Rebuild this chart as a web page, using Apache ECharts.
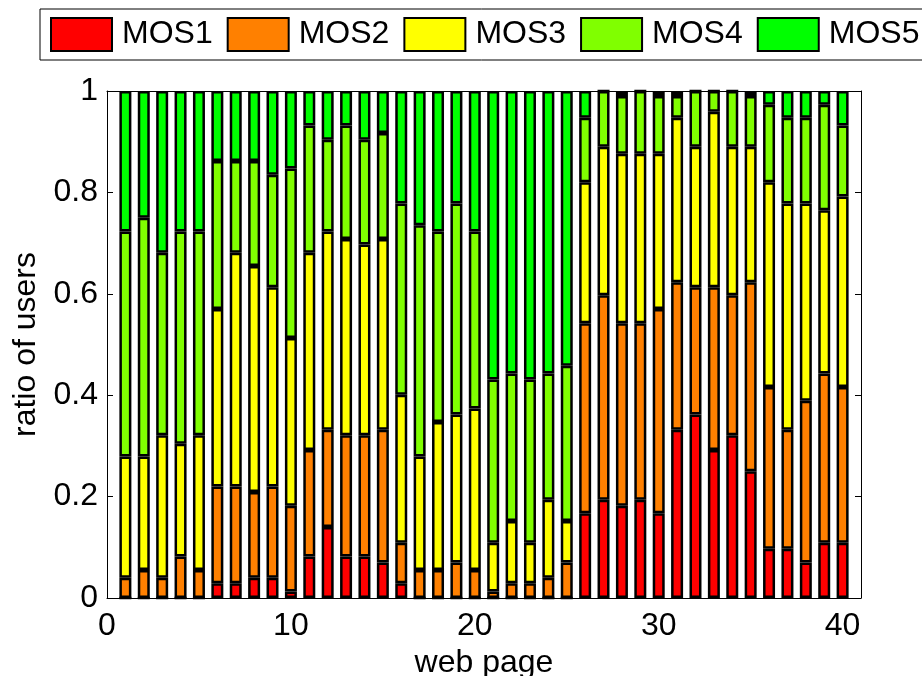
<!DOCTYPE html>
<html>
<head>
<meta charset="utf-8">
<script src="https://cdn.jsdelivr.net/npm/echarts@6/dist/echarts.min.js"></script>
<style>
html,body{margin:0;padding:0;background:#fff;}
#chart{width:922px;height:676px;}
</style>
</head>
<body>
<div id="chart"></div>
<script>
// web page index 1..40
const pages = [1,2,3,4,5,6,7,8,9,10,11,12,13,14,15,16,17,18,19,20,21,22,23,24,25,26,27,28,29,30,31,32,33,34,35,36,37,38,39,40];
const seriesNames = ['MOS1','MOS2','MOS3','MOS4','MOS5'];
const seriesColors = ['#ff0000','#ff8000','#ffff00','#80ff00','#00ff00'];
const mos1 = [0,0,0,0,0,0.029,0.029,0.040,0.040,0.013,0.082,0.140,0.082,0.082,0.070,0.029,0,0,0,0,0,0,0,0,0,0.167,0.194,0.182,0.194,0.167,0.332,0.362,0.292,0.321,0.250,0.097,0.097,0.070,0.109,0.109];
const mos2 = [0.040,0.055,0.040,0.082,0.055,0.191,0.191,0.169,0.180,0.169,0.210,0.192,0.239,0.239,0.262,0.080,0.055,0.055,0.070,0.055,0.013,0.029,0.029,0.040,0.070,0.375,0.403,0.360,0.348,0.403,0.291,0.251,0.321,0.276,0.373,0.319,0.235,0.319,0.334,0.307];
const mos3 = [0.239,0.224,0.281,0.222,0.266,0.350,0.461,0.446,0.393,0.331,0.389,0.391,0.387,0.376,0.376,0.292,0.224,0.292,0.292,0.319,0.096,0.123,0.080,0.154,0.082,0.278,0.293,0.334,0.334,0.306,0.324,0.277,0.346,0.293,0.267,0.404,0.446,0.389,0.322,0.376];
const mos4 = [0.444,0.471,0.360,0.419,0.402,0.292,0.181,0.207,0.222,0.334,0.251,0.181,0.224,0.207,0.209,0.377,0.456,0.376,0.416,0.349,0.322,0.291,0.322,0.249,0.306,0.127,0.110,0.114,0.124,0.114,0.043,0.110,0.041,0.110,0.100,0.153,0.169,0.169,0.208,0.140];
const mos5 = [0.277,0.250,0.319,0.277,0.277,0.138,0.138,0.138,0.165,0.153,0.068,0.096,0.068,0.096,0.083,0.222,0.265,0.277,0.222,0.277,0.569,0.557,0.569,0.557,0.542,0.053,0,0.010,0,0.010,0.010,0,0,0,0.010,0.027,0.053,0.053,0.027,0.068];
const xTicks = [0,10,20,30,40];
const yTicks = [0,0.2,0.4,0.6,0.8,1];

const allValues = [mos1,mos2,mos3,mos4,mos5];
const FONT = 'Liberation Sans';
const chart = echarts.init(document.getElementById('chart'), null, {renderer:'canvas'});

// column 0 = value (stacked), column 1 = page position
const series = seriesNames.map((name,i)=>({
  name: name,
  type: 'bar',
  stack: 'total',
  xAxisIndex: 0,
  yAxisIndex: 0,
  barWidth: 12,
  dimensions: ['ratio','page'],
  encode: {x: 1, y: 0},
  data: pages.map((p,j)=>[allValues[i][j], p]),
  itemStyle: {color: seriesColors[i], borderColor:'#000', borderWidth:2.5},
  emphasis: {disabled:true},
  animation:false
}));

const tickStyle = {show:true, inside:true, length:6, lineStyle:{color:'#000', width:1}};
chart.setOption({
  animation:false,
  textStyle:{fontFamily:FONT},
  grid:{left:107, right:61, top:91, bottom:78, containLabel:false, outerBoundsMode:'none'},
  legend:{
    left:40, top:9, width:900,
    padding:[8,8,8,10],
    borderColor:'#000', borderWidth:1,
    itemWidth:61, itemHeight:33, itemGap:14,
    icon:'rect',
    itemStyle:{borderColor:'#000', borderWidth:2},
    textStyle:{fontFamily:FONT, fontSize:32, color:'#000', padding:[0,0,0,5]},
    data: seriesNames
  },
  xAxis:[{
    type:'value', min:0, max:41, interval:10, position:'bottom',
    name:'web page', nameLocation:'middle', nameGap:44,
    nameTextStyle:{fontFamily:FONT, fontSize:32, color:'#000'},
    axisLine:{show:true, onZero:false, lineStyle:{color:'#000', width:1}},
    axisTick:tickStyle,
    axisLabel:{fontFamily:FONT, fontSize:32, color:'#000', margin:12,
      formatter:v=> xTicks.indexOf(v)>=0 ? String(v) : ''},
    splitLine:{show:false}
  },{
    type:'value', min:0, max:41, interval:10, position:'top',
    axisLine:{show:true, onZero:false, lineStyle:{color:'#000', width:1}},
    axisTick:tickStyle, axisLabel:{show:false}, splitLine:{show:false}
  }],
  yAxis:[{
    type:'value', min:0, max:1, interval:0.2, position:'left',
    name:'ratio of users', nameLocation:'middle', nameGap:62,
    nameTextStyle:{fontFamily:FONT, fontSize:32, color:'#000'},
    axisLine:{show:true, onZero:false, lineStyle:{color:'#000', width:1}},
    axisTick:tickStyle,
    axisLabel:{fontFamily:FONT, fontSize:32, color:'#000', margin:9,
      formatter:v=> String(Math.round(v*10)/10)},
    splitLine:{show:false}
  },{
    type:'value', min:0, max:1, interval:0.2, position:'right',
    axisLine:{show:true, onZero:false, lineStyle:{color:'#000', width:1}},
    axisTick:tickStyle, axisLabel:{show:false}, splitLine:{show:false}
  }],
  series: series
});
</script>
</body>
</html>
